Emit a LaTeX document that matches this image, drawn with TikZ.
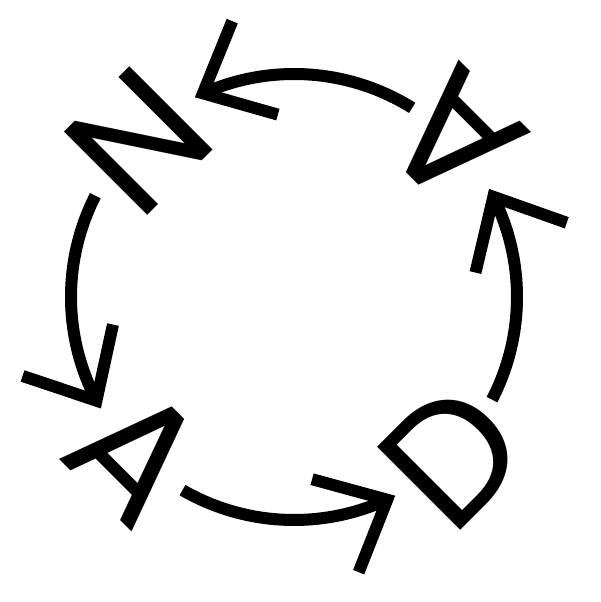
\documentclass[tikz,border=0pt]{standalone}
\usepackage{fontspec}
\newfontfamily\nadafont{Poppins}
\usetikzlibrary{arrows.meta,bending,calc}

\begin{document}
\begin{tikzpicture}[
  letter/.style={inner sep=0pt, font=\nadafont\fontsize{120}{120}\selectfont},
  arcarrow/.style={line width=0.3cm, -{Straight Barb[sharp,length=1.45cm,width=2.6cm]}}
]
\useasboundingbox (0,0) rectangle (15,15.05);
\coordinate (centre) at (7.35,7.625);

% letters round the ring
\node (n) [letter, rotate=45] at ($(centre)+(135:5.5)$) {N};
\node (a1) [letter, rotate=-45] at ($(centre)+(225:5.55)$) {A};
\node (d) [letter, rotate=45] at ($(centre)+(315:5.6)$) {D};
\node (a2) [letter, rotate=135] at ($(centre)+(45:5.65)$) {A};

% where each arc starts
\coordinate (fromA2) at ($(centre)+(58:5.575)$);
\coordinate (fromN) at ($(centre)+(153:5.575)$);
\coordinate (fromA1) at ($(centre)+(240:5.575)$);
\coordinate (fromD) at ($(centre)+(332.6:5.575)$);

\draw[arcarrow] (fromA2) arc[start angle=58, end angle=116.4, radius=5.575cm];
\draw[arcarrow] (fromN) arc[start angle=153, end angle=210, radius=5.575cm];
\draw[arcarrow] (fromA1) arc[start angle=240, end angle=297, radius=5.575cm];
\draw[arcarrow] (fromD) arc[start angle=332.6, end angle=389, radius=5.575cm];
\end{tikzpicture}
\end{document}
